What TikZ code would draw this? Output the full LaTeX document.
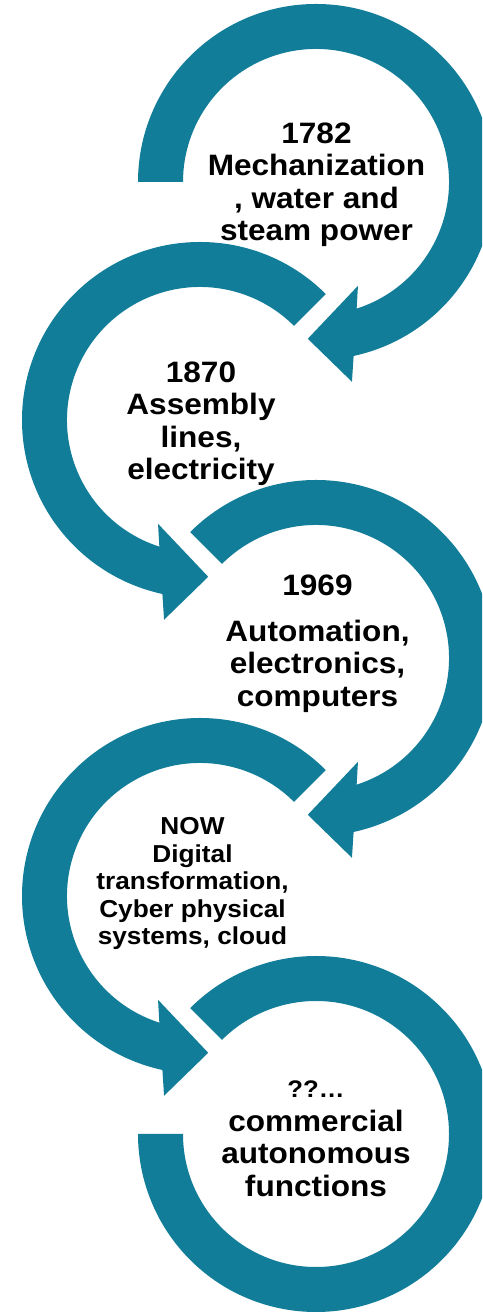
\documentclass[tikz,border=0pt]{standalone}
\usepackage{fontspec}
\setmainfont{Liberation Sans}[FakeStretch=1.07]
\usepackage{tikz}
\definecolor{ringteal}{RGB}{18,125,153}

\begin{document}
\begin{tikzpicture}[x=1pt, y=1pt, ring/.style={fill=ringteal}, main node/.style={align=center, inner sep=0, font=\bfseries\fontsize{29.5}{32.5}\selectfont}, small node/.style={align=center, inner sep=0, font=\bfseries\fontsize{24.5}{27.5}\selectfont}]
\useasboundingbox (0,0) rectangle (482,1313);
\clip (0,0) rectangle (482,1313);
% right rings, clockwise
\foreach \cy/\s in {1131/180, 655/135} {
\fill[ring, shift={(316,\cy)}] (\s:178) arc[start angle=\s, end angle=-77.8, radius=178] -- (-79.8:203) -- (-93:157) -- (-68:112) -- (-72.2:133) arc[start angle=-72.2, end angle=\s, radius=133] -- cycle;
}
% left rings, counterclockwise
\foreach \cy in {893, 417} {
\fill[ring, shift={(200,\cy)}] (45:178) arc[start angle=45, end angle=257.8, radius=178] -- (259.8:203) -- (273:157) -- (248:112) -- (252.2:133) arc[start angle=252.2, end angle=45, radius=133] -- cycle;
}
\fill[ring, shift={(316,179)}] (135:178) arc[start angle=135, end angle=-180, radius=178] -- (180:133) arc[start angle=-180, end angle=135, radius=133] -- cycle;
\node[main node] (mech) at (316.5,1128.2) {1782\\Mechanization\\, water and\\steam power};
\node[main node] (assembly) at (201,889) {1870\\Assembly\\lines,\\electricity};
\node[main node] (automation) at (317.5,669) {1969\\[13pt]Automation,\\electronics,\\computers};
\node[small node] (digital) at (192.5,429.2) {NOW\\Digital\\transformation,\\Cyber physical\\systems, cloud};
\node[main node] (autonomous) at (316,174.3) {{\fontsize{24}{33}\selectfont ??…}\\[1.5pt]commercial\\autonomous\\functions};
\end{tikzpicture}
\end{document}
